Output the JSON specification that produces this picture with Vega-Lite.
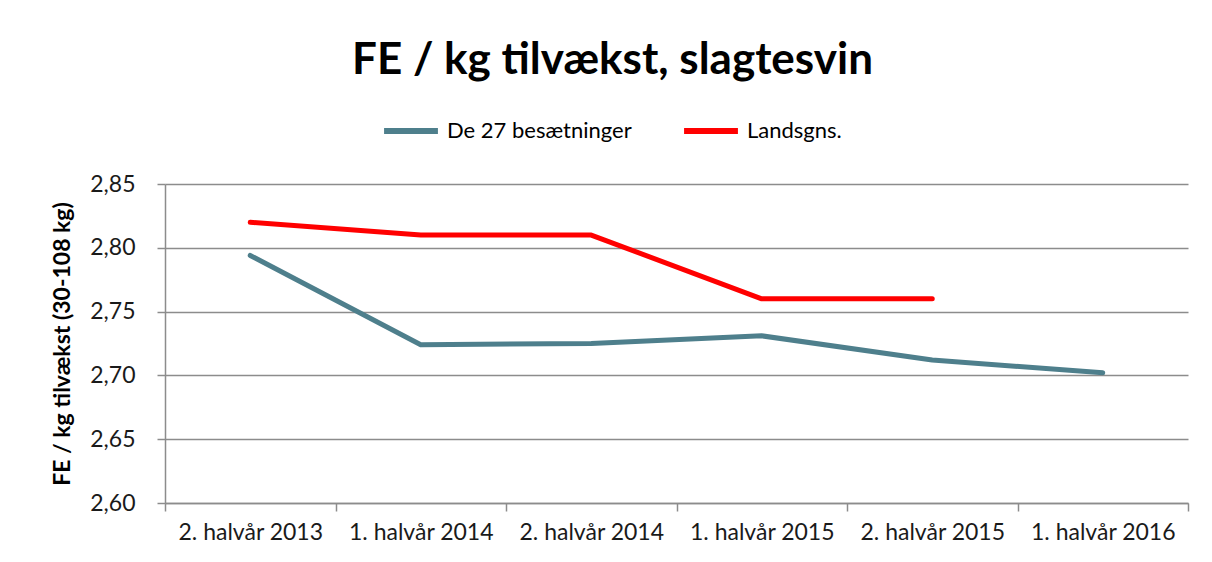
{
  "$schema": "https://vega.github.io/schema/vega-lite/v6.json",
  "width": 1023,
  "height": 319,
  "autosize": {"type": "none"},
  "padding": {"left": 165, "top": 184, "right": 24, "bottom": 59},
  "background": "white",
  "title": {
    "text": "FE / kg tilvækst, slagtesvin",
    "font": "Lato",
    "fontSize": 44,
    "fontWeight": "bold",
    "color": "#000000",
    "anchor": "middle",
    "frame": "group",
    "dx": -64,
    "offset": 18
  },
  "data": {
    "values": [
      {"periode": "2. halvår 2013", "serie": "De 27 besætninger", "fe": 2.794},
      {"periode": "1. halvår 2014", "serie": "De 27 besætninger", "fe": 2.724},
      {"periode": "2. halvår 2014", "serie": "De 27 besætninger", "fe": 2.725},
      {"periode": "1. halvår 2015", "serie": "De 27 besætninger", "fe": 2.731},
      {"periode": "2. halvår 2015", "serie": "De 27 besætninger", "fe": 2.712},
      {"periode": "1. halvår 2016", "serie": "De 27 besætninger", "fe": 2.702},
      {"periode": "2. halvår 2013", "serie": "Landsgns.", "fe": 2.82},
      {"periode": "1. halvår 2014", "serie": "Landsgns.", "fe": 2.81},
      {"periode": "2. halvår 2014", "serie": "Landsgns.", "fe": 2.81},
      {"periode": "1. halvår 2015", "serie": "Landsgns.", "fe": 2.76},
      {"periode": "2. halvår 2015", "serie": "Landsgns.", "fe": 2.76}
    ]
  },
  "mark": {"type": "line", "strokeWidth": 5, "strokeCap": "round", "strokeJoin": "round"},
  "encoding": {
    "x": {
      "field": "periode",
      "type": "nominal",
      "sort": ["2. halvår 2013", "1. halvår 2014", "2. halvår 2014", "1. halvår 2015", "2. halvår 2015", "1. halvår 2016"],
      "scale": {"type": "band", "paddingInner": 0, "paddingOuter": 0},
      "axis": {
        "title": null,
        "labelAngle": 0,
        "labelFont": "Lato",
        "labelFontSize": 23,
        "labelColor": "#1a1a1a",
        "labelPadding": 10,
        "tickBand": "extent",
        "tickSize": 8,
        "tickColor": "#8c8c8c",
        "tickWidth": 1.5,
        "domainColor": "#8c8c8c",
        "domainWidth": 1.5,
        "grid": false
      }
    },
    "y": {
      "field": "fe",
      "type": "quantitative",
      "scale": {"domain": [2.6, 2.85], "nice": false, "zero": false},
      "axis": {
        "title": "FE / kg tilvækst (30-108 kg)",
        "titleFont": "Lato",
        "titleFontSize": 23,
        "titleFontWeight": "bold",
        "titleColor": "#000000",
        "titlePadding": 15,
        "values": [2.6, 2.65, 2.7, 2.75, 2.8, 2.85],
        "labelExpr": "replace(format(datum.value, '.2f'), '.', ',')",
        "labelFont": "Lato",
        "labelFontSize": 23,
        "labelColor": "#1a1a1a",
        "labelPadding": 22,
        "tickSize": 8,
        "tickColor": "#8c8c8c",
        "tickWidth": 1.5,
        "domainColor": "#8c8c8c",
        "domainWidth": 1.5,
        "grid": true,
        "gridColor": "#8c8c8c",
        "gridWidth": 1.5
      }
    },
    "color": {
      "field": "serie",
      "type": "nominal",
      "scale": {"domain": ["De 27 besætninger", "Landsgns."], "range": ["#4e7f8c", "#ff0000"]},
      "legend": {
        "title": null,
        "orient": "none",
        "direction": "horizontal",
        "legendX": 216,
        "legendY": -83,
        "symbolType": "stroke",
        "symbolSize": 2900,
        "symbolStrokeWidth": 6,
        "labelFont": "Lato",
        "labelFontSize": 22,
        "labelLimit": 0,
        "labelColor": "#000000",
        "labelOffset": 6,
        "columnPadding": 40
      }
    }
  },
  "config": {"view": {"stroke": null}}
}
